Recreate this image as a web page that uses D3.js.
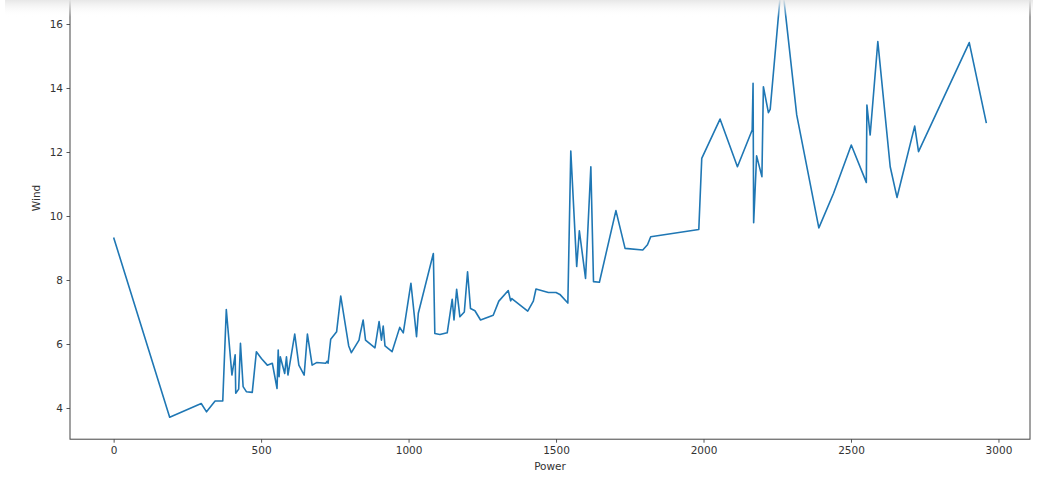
<!DOCTYPE html>
<html>
<head>
<meta charset="utf-8">
<script src="https://cdn.jsdelivr.net/npm/d3@7"></script>
<style>
  html, body { margin: 0; padding: 0; background: #ffffff; }
  svg { display: block; }
  text { font-family: "DejaVu Sans", sans-serif; fill: #333; }
</style>
</head>
<body>
<svg id="chart" width="1046" height="480"></svg>
<script>
// Power output (x) and wind speed (y), ordered by power
const power = [
  0, 190, 297, 315, 344, 370, 382, 401, 412, 414, 424, 430, 439, 450, 470,
  484, 501, 521, 538, 554, 558, 561, 565, 580, 586, 591, 614, 628, 646, 657,
  673, 688, 719, 724, 727, 736, 756, 770, 797, 806, 832, 835, 846, 854, 886,
  900, 908, 914, 920, 944, 970, 982, 1008, 1027, 1033, 1084, 1089, 1106, 1131,
  1148, 1154, 1163, 1174, 1189, 1200, 1210, 1225, 1244, 1287, 1306, 1338, 1346,
  1350, 1404, 1423, 1432, 1474, 1500, 1513, 1540, 1550, 1570, 1579, 1600, 1618,
  1627, 1647, 1703, 1734, 1794, 1810, 1821, 1984, 1994, 2056, 2115, 2165, 2168,
  2170, 2180, 2198, 2203, 2220, 2226, 2265, 2316, 2391, 2441, 2501, 2552, 2554,
  2565, 2591, 2633, 2656, 2716, 2729, 2901, 2959
];
const wind = [
  9.33, 3.71, 4.14, 3.88, 4.22, 4.22, 7.08, 5.03, 5.66, 4.46, 4.59, 6.02, 4.67, 4.51, 4.49,
  5.76, 5.55, 5.34, 5.40, 4.61, 5.81, 4.98, 5.60, 5.08, 5.60, 5.03, 6.31, 5.34, 5.03, 6.31,
  5.34, 5.42, 5.40, 5.46, 5.40, 6.15, 6.38, 7.50, 5.94, 5.73, 6.12, 6.28, 6.75, 6.12, 5.88,
  6.70, 6.12, 6.56, 5.94, 5.76, 6.52, 6.35, 7.90, 6.23, 6.96, 8.83, 6.33, 6.30, 6.35,
  7.40, 6.75, 7.71, 6.85, 7.00, 8.26, 7.11, 7.04, 6.75, 6.90, 7.34, 7.67, 7.35,
  7.42, 7.03, 7.34, 7.72, 7.61, 7.61, 7.55, 7.28, 12.03, 8.42, 9.54, 8.05, 11.54,
  7.95, 7.93, 10.17, 8.99, 8.94, 9.10, 9.35, 9.58, 11.80, 13.03, 11.54, 12.69, 14.15,
  9.79, 11.88, 11.23, 14.04, 13.23, 13.33, 17.40, 13.16, 9.63, 10.71, 12.22, 11.05, 13.47,
  12.53, 15.45, 11.54, 10.58, 12.81, 12.01, 15.42, 12.90
];
const xTicks = [0, 500, 1000, 1500, 2000, 2500, 3000];
const yTicks = [4, 6, 8, 10, 12, 14, 16];

const svg = d3.select("#chart");

// Plot area (the top of the axes box sits above the visible canvas)
const plotLeft = 70, plotRight = 1030, plotTop = -42.7, plotBottom = 439.2;

// 5% padding around the data on both axes
function padded(values) {
  const [lo, hi] = d3.extent(values);
  const pad = (hi - lo) * 0.05;
  return [lo - pad, hi + pad];
}

const x = d3.scaleLinear().domain(padded(power)).range([plotLeft, plotRight]);
const y = d3.scaleLinear().domain(padded(wind)).range([plotBottom, plotTop]);

const data = power.map((p, i) => ({ p, w: wind[i] }));

// Series line
svg.append("path")
  .datum(data)
  .attr("fill", "none")
  .attr("stroke", "#1f77b4")
  .attr("stroke-width", 1.6)
  .attr("stroke-linejoin", "round")
  .attr("d", d3.line().x(d => x(d.p)).y(d => y(d.w)));

// Axes
const xAxis = svg.append("g")
  .attr("transform", `translate(0,${plotBottom})`)
  .call(d3.axisBottom(x).tickValues(xTicks).tickSize(3.5).tickPadding(3.5).tickFormat(d3.format("d")));
const yAxis = svg.append("g")
  .attr("transform", `translate(${plotLeft},0)`)
  .call(d3.axisLeft(y).tickValues(yTicks).tickSize(3.5).tickPadding(3.5).tickFormat(d3.format("d")));

[xAxis, yAxis].forEach(g => {
  g.select(".domain").remove();
  g.selectAll(".tick line").attr("stroke", "#444").attr("stroke-width", 0.9);
  g.selectAll(".tick text")
    .attr("font-family", "DejaVu Sans, sans-serif")
    .attr("font-size", "10.5px")
    .attr("fill", "#333");
});

// Axes frame
svg.append("rect")
  .attr("x", plotLeft).attr("y", plotTop)
  .attr("width", plotRight - plotLeft).attr("height", plotBottom - plotTop)
  .attr("fill", "none")
  .attr("stroke", "#444")
  .attr("stroke-width", 1);

// Axis titles
svg.append("text")
  .attr("x", (plotLeft + plotRight) / 2)
  .attr("y", 470)
  .attr("text-anchor", "middle")
  .attr("font-size", "10.5px")
  .text("Power");

svg.append("text")
  .attr("transform", "translate(40,198) rotate(-90)")
  .attr("text-anchor", "middle")
  .attr("font-size", "10.5px")
  .text("Wind");

// Soft shade along the top edge
const defs = svg.append("defs");
const grad = defs.append("linearGradient")
  .attr("id", "topShade").attr("x1", 0).attr("y1", 0).attr("x2", 0).attr("y2", 1);
grad.append("stop").attr("offset", "0%").attr("stop-color", "#e6e6e6").attr("stop-opacity", 0.95);
grad.append("stop").attr("offset", "100%").attr("stop-color", "#ffffff").attr("stop-opacity", 0);
svg.append("rect")
  .attr("x", 5).attr("y", 0)
  .attr("width", 1028).attr("height", 17)
  .attr("fill", "url(#topShade)");
</script>
</body>
</html>
